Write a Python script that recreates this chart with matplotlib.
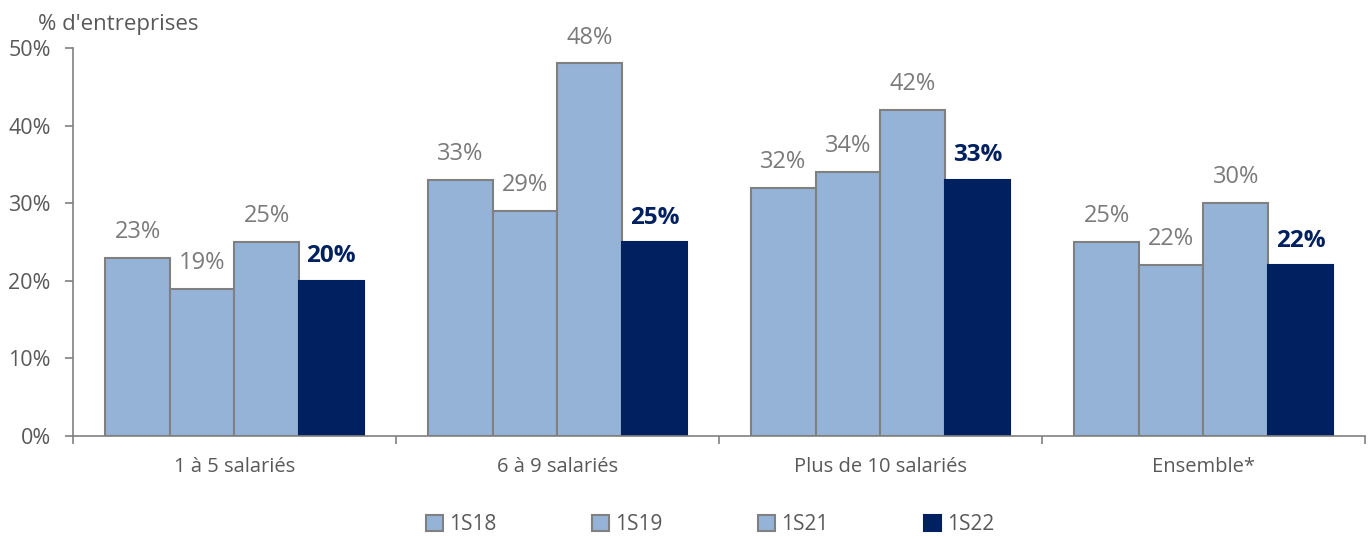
import numpy as np
import matplotlib.pyplot as plt
from matplotlib.ticker import FixedLocator, NullFormatter

plt.rcParams['font.family'] = ['Open Sans', 'DejaVu Sans']

groups = ['1 à 5 salariés', '6 à 9 salariés', 'Plus de 10 salariés', 'Ensemble*']
series = ['1S18', '1S19', '1S21', '1S22']
v_1s18 = [23, 33, 32, 25]
v_1s19 = [19, 29, 34, 22]
v_1s21 = [25, 48, 42, 30]
v_1s22 = [20, 25, 33, 22]
values = [v_1s18, v_1s19, v_1s21, v_1s22]

light = '#95B3D7'
navy = '#002060'
grey = '#808080'
txt = '#595959'
lbl = '#7a7a7a'

fig = plt.figure(figsize=(13.71, 5.39), dpi=100)
ax = fig.add_axes([0.0532, 0.191, 0.9424, 0.72])

x = np.arange(len(groups))
w = 0.2
for i, (name, vals) in enumerate(zip(series, values)):
    pos = x + (i - 1.5) * w
    last = i == len(series) - 1
    ax.bar(pos, vals, width=w, color=navy if last else light,
           edgecolor=navy if last else grey, linewidth=1.5, label=name)
    for p, v in zip(pos, vals):
        if last:
            ax.text(p, v + 1.6, f'{v}%', ha='center', va='bottom',
                    fontsize=17.5, fontweight='bold', color=navy)
        else:
            ax.text(p, v + 1.8, f'{v}%', ha='center', va='bottom',
                    fontsize=17, color=lbl)

ax.set_xlim(-0.5, len(groups) - 0.5)
ax.set_ylim(0, 50)
ax.set_yticks(np.arange(0, 51, 10))
ax.set_yticklabels([f'{t}%' for t in range(0, 51, 10)], fontsize=15.5, color=txt)
ax.xaxis.set_major_locator(FixedLocator(np.arange(-0.5, len(groups), 1)))
ax.xaxis.set_major_formatter(NullFormatter())
ax.set_xticks(x, minor=True)
ax.set_xticklabels(groups, minor=True, fontsize=14.5, color=txt)
ax.tick_params(axis='x', which='minor', length=0, pad=15)
ax.tick_params(axis='x', which='major', length=6, color=grey, width=1.2)
ax.tick_params(axis='y', length=6, color=grey, width=1.2, pad=10)

for s in ['top', 'right']:
    ax.spines[s].set_visible(False)
for s in ['left', 'bottom']:
    ax.spines[s].set_color(grey)
    ax.spines[s].set_linewidth(1.2)

fig.text(0.028, 0.935, "% d'entreprises", fontsize=16, color=txt, va='bottom')

leg = fig.legend(loc='lower center', bbox_to_anchor=(0.518, -0.028), ncol=4,
                 frameon=False, fontsize=15, handlelength=0.8, handleheight=0.8,
                 columnspacing=4.6, handletextpad=0.3)
for t in leg.get_texts():
    t.set_color(txt)

fig.savefig('out.png', dpi=100)
